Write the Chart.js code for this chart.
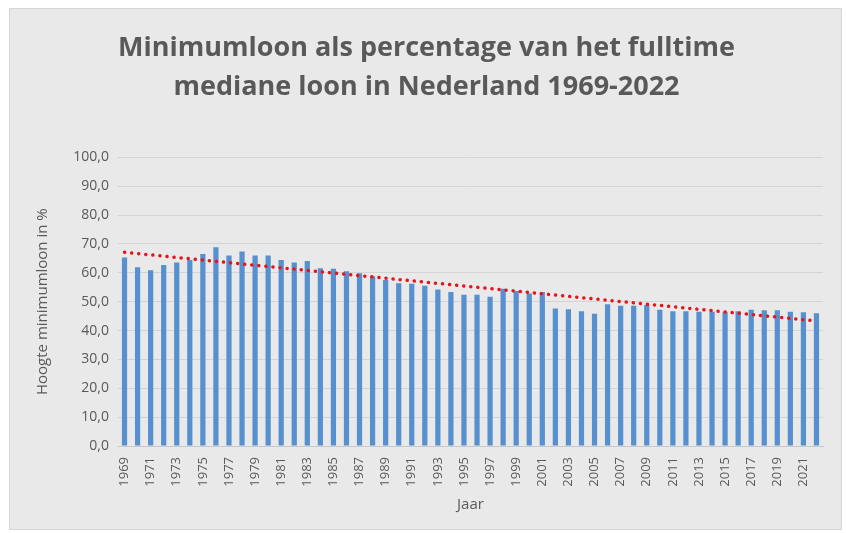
<!DOCTYPE html>
<html lang="nl">
<head>
    <meta charset="UTF-8">
    <title>Minimumloon als percentage van het fulltime mediane loon</title>
    <style>
        body {
            margin: 0;
            background-color: #ffffff;
        }
        .chart-box {
            position: absolute;
            left: 9px;
            top: 8px;
            width: 833px;
            height: 522px;
            background-color: #e9e9e9;
            border: 1px solid #d6d6d6;
            box-sizing: border-box;
        }
    </style>
</head>
<body>
    <div class="chart-box">
        <canvas id="loonChart" width="831" height="520"></canvas>
    </div>

    <script src="https://cdn.jsdelivr.net/npm/chart.js"></script>
    <script>
        // Jaren 1969 t/m 2022
        const years = [
            '1969', '1970', '1971', '1972', '1973', '1974', '1975', '1976', '1977', '1978',
            '1979', '1980', '1981', '1982', '1983', '1984', '1985', '1986', '1987', '1988',
            '1989', '1990', '1991', '1992', '1993', '1994', '1995', '1996', '1997', '1998',
            '1999', '2000', '2001', '2002', '2003', '2004', '2005', '2006', '2007', '2008',
            '2009', '2010', '2011', '2012', '2013', '2014', '2015', '2016', '2017', '2018',
            '2019', '2020', '2021', '2022'
        ];

        const minimumloonPct = [
            65.3, 61.9, 60.9, 62.7, 63.6, 64.4, 66.5, 68.8, 66.0, 67.4,
            66.0, 66.0, 64.4, 63.6, 64.1, 61.6, 61.4, 60.5, 59.8, 58.8,
            57.5, 56.4, 56.2, 55.5, 54.2, 53.3, 52.4, 52.4, 51.7, 54.5,
            53.7, 52.8, 53.3, 47.6, 47.4, 46.7, 45.8, 49.1, 48.6, 48.6,
            48.8, 47.2, 46.7, 46.7, 46.5, 46.5, 46.3, 46.7, 47.2, 47.0,
            47.0, 46.5, 46.3, 46.0
        ];

        const trendStart = 67.1;
        const trendEnd = 43.3;
        const trendLine = years.map((_, i) =>
            i === 0 ? trendStart : (i === years.length - 1 ? trendEnd : null));

        const yTicks = [0, 10, 20, 30, 40, 50, 60, 70, 80, 90, 100];

        const tekstKleur = '#595959';
        const lettertype = "'Open Sans', sans-serif";

        const ctx = document.getElementById('loonChart').getContext('2d');

        new Chart(ctx, {
            data: {
                labels: years,
                datasets: [
                    {
                        type: 'line',
                        label: 'Trend',
                        data: trendLine,
                        spanGaps: true,
                        borderColor: '#e8141b',
                        borderWidth: 3.5,
                        borderDash: [0.1, 7],
                        borderCapStyle: 'round',
                        pointRadius: 0,
                        fill: false,
                        order: 0
                    },
                    {
                        type: 'bar',
                        label: 'Minimumloon',
                        data: minimumloonPct,
                        backgroundColor: '#5690cf',
                        categoryPercentage: 1,
                        barPercentage: 0.4,
                        order: 1
                    }
                ]
            },
            options: {
                responsive: false,
                animation: false,
                layout: {
                    padding: { left: 20, right: 18, top: 0, bottom: 11 }
                },
                plugins: {
                    legend: { display: false },
                    tooltip: { enabled: false },
                    title: {
                        display: true,
                        text: [
                            'Minimumloon als percentage van het fulltime',
                            'mediane loon in Nederland 1969-2022'
                        ],
                        color: tekstKleur,
                        font: { family: lettertype, size: 27, weight: 'bold', lineHeight: 1.45 },
                        padding: { top: 20, bottom: 50 }
                    }
                },
                scales: {
                    x: {
                        grid: { display: false },
                        border: { color: '#c8c8c8' },
                        ticks: {
                            autoSkip: false,
                            maxRotation: 90,
                            minRotation: 90,
                            color: tekstKleur,
                            font: { family: lettertype, size: 13 },
                            callback: function (value, index) {
                                return index % 2 === 0 ? years[index] : '';
                            }
                        },
                        title: {
                            display: true,
                            text: 'Jaar',
                            color: tekstKleur,
                            font: { family: lettertype, size: 15 },
                            padding: { top: 4 }
                        },
                        afterFit: function (scale) {
                            scale.height = 72;
                        }
                    },
                    y: {
                        min: 0,
                        max: 100,
                        afterBuildTicks: function (scale) {
                            scale.ticks = yTicks.map(v => ({ value: v }));
                        },
                        grid: { color: '#d4d4d4', drawTicks: false },
                        border: { display: false },
                        ticks: {
                            padding: 9,
                            color: tekstKleur,
                            font: { family: lettertype, size: 14 },
                            callback: function (value) {
                                return value.toFixed(1).replace('.', ',');
                            }
                        },
                        title: {
                            display: true,
                            text: 'Hoogte minimumloon in %',
                            color: tekstKleur,
                            font: { family: lettertype, size: 15 },
                            padding: { bottom: 4 }
                        },
                        afterFit: function (scale) {
                            scale.width = 88;
                        }
                    }
                }
            }
        });
    </script>
</body>
</html>
